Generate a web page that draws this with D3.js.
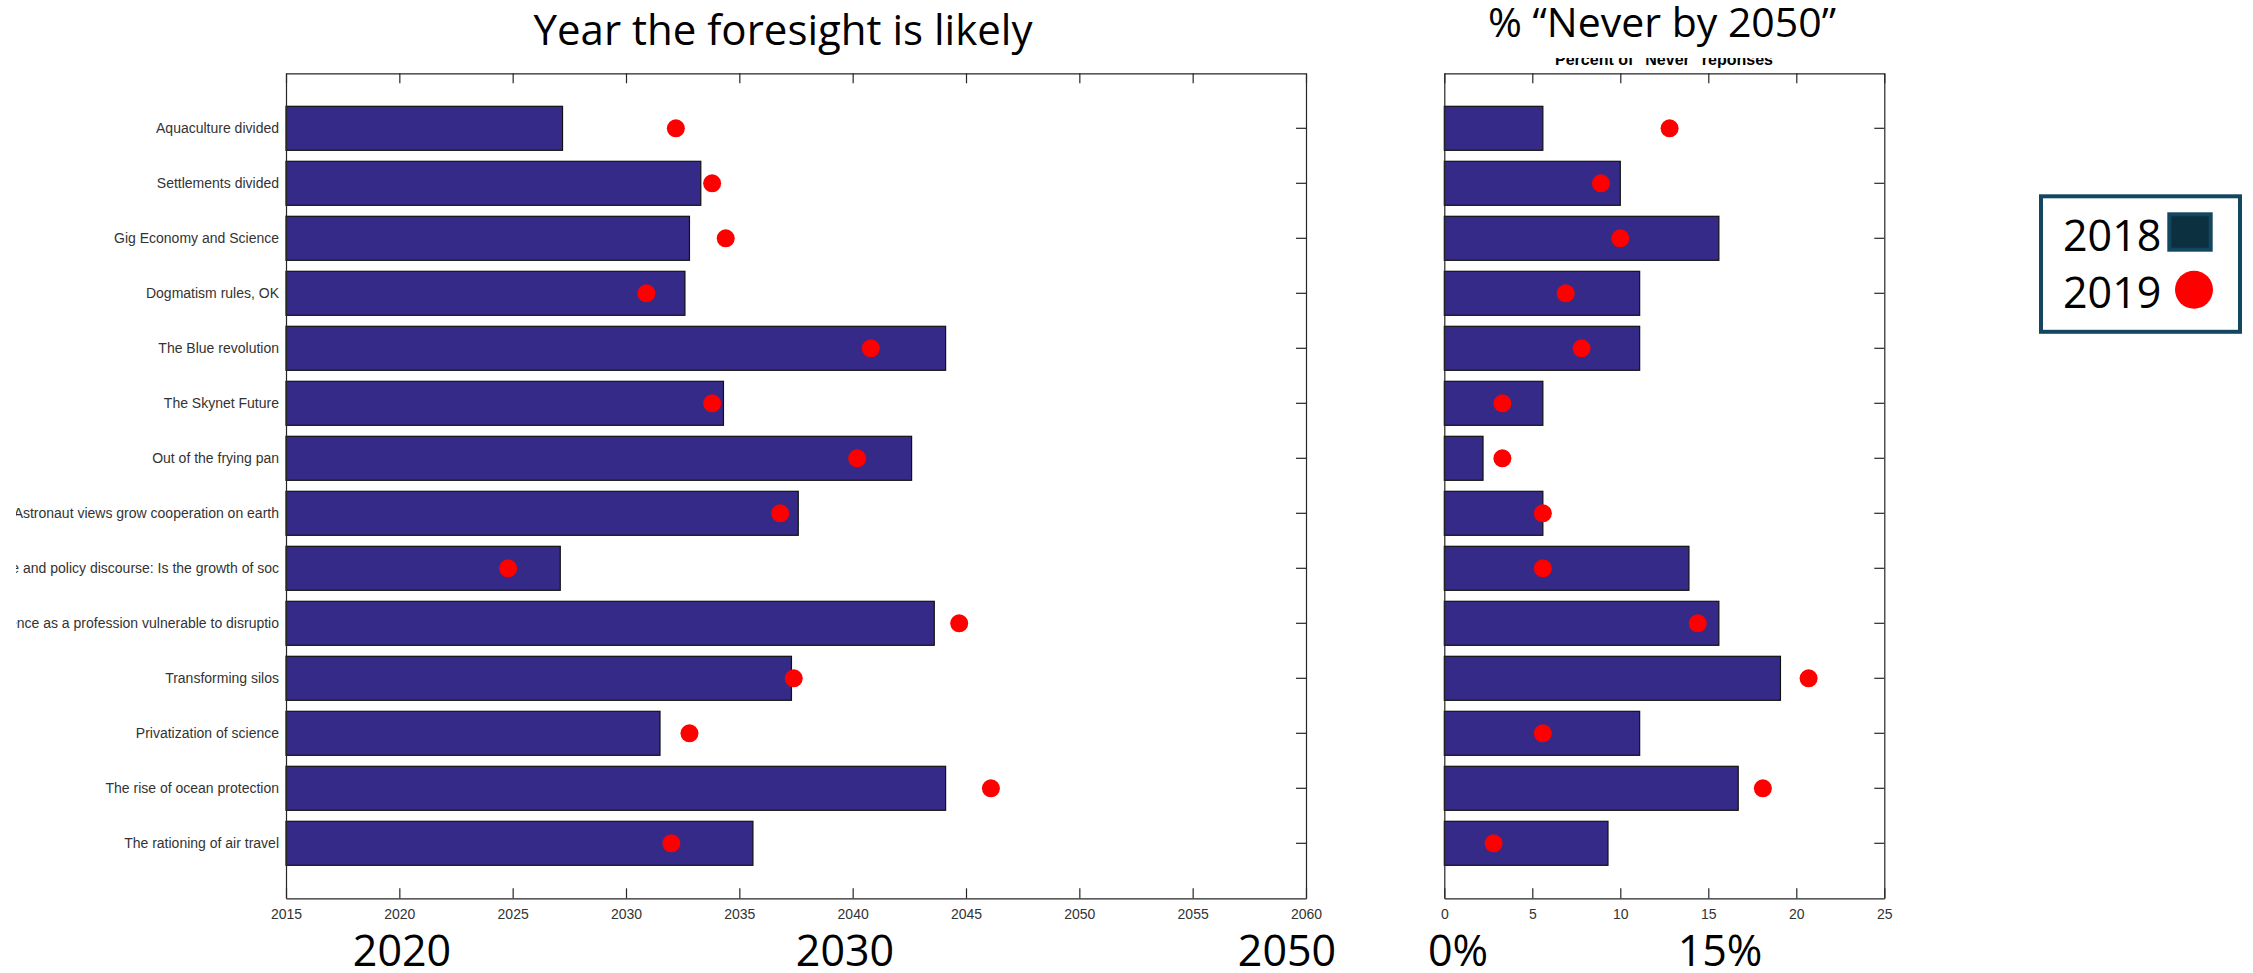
<!DOCTYPE html>
<html>
<head>
<meta charset="utf-8">
<script src="https://cdn.jsdelivr.net/npm/d3@7"></script>
<style>
  body { margin: 0; background: #fff; }
  svg { display: block; }
  .tick text { font-family: "Liberation Sans", Arial, sans-serif; fill: #333; }
  .tick line, .domain { stroke: #262626; stroke-width: 1.2; }
</style>
</head>
<body>
<svg id="chart"></svg>
<script>
const width = 2253;
const height = 973;

// scenario names, top to bottom
const categories = [
  'Aquaculture divided',
  'Settlements divided',
  'Gig Economy and Science',
  'Dogmatism rules, OK',
  'The Blue revolution',
  'The Skynet Future',
  'Out of the frying pan',
  'Astronaut views grow cooperation on earth',
  'Science and policy discourse: Is the growth of soc',
  'Science as a profession vulnerable to disruptio',
  'Transforming silos',
  'Privatization of science',
  'The rise of ocean protection',
  'The rationing of air travel'
];

// year the foresight is likely
const year2018 = [2027.2, 2033.3, 2032.8, 2032.6, 2044.1, 2034.3, 2042.6, 2037.6, 2027.1, 2043.6, 2037.3, 2031.5, 2044.1, 2035.6];
const year2019 = [2032.2, 2033.8, 2034.4, 2030.9, 2040.8, 2033.8, 2040.2, 2036.8, 2024.8, 2044.7, 2037.4, 2032.8, 2046.1, 2032.0];

// percent of "never" responses
const never2018 = [5.6, 10.0, 15.6, 11.1, 11.1, 5.6, 2.2, 5.6, 13.9, 15.6, 19.1, 11.1, 16.7, 9.3];
const never2019 = [12.8, 8.9, 10.0, 6.9, 7.8, 3.3, 3.3, 5.6, 5.6, 14.4, 20.7, 5.6, 18.1, 2.8];

const yearTicks = [2015, 2020, 2025, 2030, 2035, 2040, 2045, 2050, 2055, 2060];
const pctTicks = [0, 5, 10, 15, 20, 25];
const yearNotes = ['2020', '2030', '2050'];
const pctNotes = ['0%', '15%'];
const legendYears = ['2018', '2019'];

const barColor = '#352a87';
const dotColor = '#ff0000';
const legendColor = '#13475f';

const plotTop = 73.3;
const plotBottom = 898.3;

const svg = d3.select('#chart')
  .attr('width', width)
  .attr('height', height);

const yScale = d3.scaleBand()
  .domain(categories)
  .range([plotTop, plotBottom])
  .paddingInner(0.2)
  .paddingOuter(0.6);

const leftX = d3.scaleLinear().domain([2015, 2060]).range([286, 1306]);
const rightX = d3.scaleLinear().domain([0, 25]).range([1444.3, 1884.3]);

// label clip (the picture is cut on the left)
svg.append('clipPath').attr('id', 'labelClip')
  .append('rect').attr('x', 16).attr('y', 0).attr('width', 400).attr('height', height);

function drawPanel(xScale, ticks, bars, dots, showLabels) {
  const g = svg.append('g');
  const x0 = xScale.range()[0];
  const x1 = xScale.range()[1];

  g.selectAll('rect.bar')
    .data(categories)
    .enter()
    .append('rect')
    .attr('class', 'bar')
    .attr('x', x0)
    .attr('y', d => yScale(d))
    .attr('width', (d, i) => xScale(bars[i]) - x0)
    .attr('height', yScale.bandwidth())
    .attr('fill', barColor)
    .attr('stroke', '#111')
    .attr('stroke-width', 1.2);

  g.selectAll('circle.dot')
    .data(categories)
    .enter()
    .append('circle')
    .attr('class', 'dot')
    .attr('cx', (d, i) => xScale(dots[i]))
    .attr('cy', d => yScale(d) + yScale.bandwidth() / 2)
    .attr('r', 9)
    .attr('fill', dotColor);

  // box with inward ticks
  g.append('g')
    .attr('transform', `translate(0, ${plotBottom})`)
    .call(d3.axisBottom(xScale).tickValues(ticks).tickFormat(d3.format('d'))
      .tickSizeInner(-10).tickSizeOuter(0).tickPadding(11))
    .call(a => a.selectAll('text').style('font-size', '14px'));

  g.append('g')
    .attr('transform', `translate(0, ${plotTop})`)
    .call(d3.axisTop(xScale).tickValues(ticks).tickSizeInner(-10).tickSizeOuter(0).tickFormat(''));

  g.append('g')
    .attr('transform', `translate(${x1}, 0)`)
    .call(d3.axisRight(yScale).tickSizeInner(-10).tickSizeOuter(0).tickFormat(''));

  const leftWrap = g.append('g')
    .attr('clip-path', showLabels ? 'url(#labelClip)' : null);
  leftWrap.append('g')
    .attr('transform', `translate(${x0}, 0)`)
    .call(d3.axisLeft(yScale).tickSizeInner(0).tickSizeOuter(0).tickPadding(7)
      .tickFormat(showLabels ? (d => d) : ''))
    .call(a => a.selectAll('text').style('font-size', '14px'));
  return g;
}

drawPanel(leftX, yearTicks, year2018, year2019, true);
drawPanel(rightX, pctTicks, never2018, never2019, false);

// titles
svg.append('text')
  .text('Year the foresight is likely')
  .attr('x', 783)
  .attr('y', 45)
  .attr('text-anchor', 'middle')
  .style('font-family', '"Open Sans", sans-serif')
  .style('font-size', '42px');

svg.append('clipPath').attr('id', 'subClip')
  .append('rect').attr('x', 1400).attr('y', 58).attr('width', 500).attr('height', 14);

svg.append('text')
  .text('Percent of "Never" reponses')
  .attr('x', 1664)
  .attr('y', 65)
  .attr('text-anchor', 'middle')
  .attr('clip-path', 'url(#subClip)')
  .style('font-family', '"Liberation Sans", Arial, sans-serif')
  .style('font-weight', 'bold')
  .style('font-size', '16px');

svg.append('text')
  .text('% \u201cNever by 2050\u201d')
  .attr('x', 1662)
  .attr('y', 37)
  .attr('text-anchor', 'middle')
  .style('font-family', '"Open Sans", sans-serif')
  .style('font-size', '41px');

// big annotations under the axes
const yearNoteX = [402, 845, 1287];
svg.selectAll('text.yearNote')
  .data(yearNotes)
  .enter()
  .append('text')
  .attr('class', 'yearNote')
  .text(d => d)
  .attr('x', (d, i) => yearNoteX[i])
  .attr('y', 966)
  .attr('text-anchor', 'middle')
  .style('font-family', '"Open Sans", sans-serif')
  .style('font-size', '43px');

const pctNoteX = [1458, 1720];
svg.selectAll('text.pctNote')
  .data(pctNotes)
  .enter()
  .append('text')
  .attr('class', 'pctNote')
  .text(d => d)
  .attr('x', (d, i) => pctNoteX[i])
  .attr('y', 966)
  .attr('text-anchor', 'middle')
  .style('font-family', '"Open Sans", sans-serif')
  .style('font-size', '43px');

// legend
const legend = svg.append('g');
legend.append('rect')
  .attr('x', 2041).attr('y', 196.3)
  .attr('width', 199).attr('height', 135.5)
  .attr('fill', '#fff')
  .attr('stroke', legendColor)
  .attr('stroke-width', 4);

legend.selectAll('text')
  .data(legendYears)
  .enter()
  .append('text')
  .text(d => d)
  .attr('x', 2063)
  .attr('y', (d, i) => 251 + i * 57)
  .style('font-family', '"Open Sans", sans-serif')
  .style('font-size', '43px');

legend.append('rect')
  .attr('x', 2169.3).attr('y', 214.3)
  .attr('width', 41.4).attr('height', 35.4)
  .attr('fill', '#0d3041')
  .attr('stroke', legendColor)
  .attr('stroke-width', 4);

legend.append('circle')
  .attr('cx', 2194).attr('cy', 289.7).attr('r', 19)
  .attr('fill', dotColor);
</script>
</body>
</html>
